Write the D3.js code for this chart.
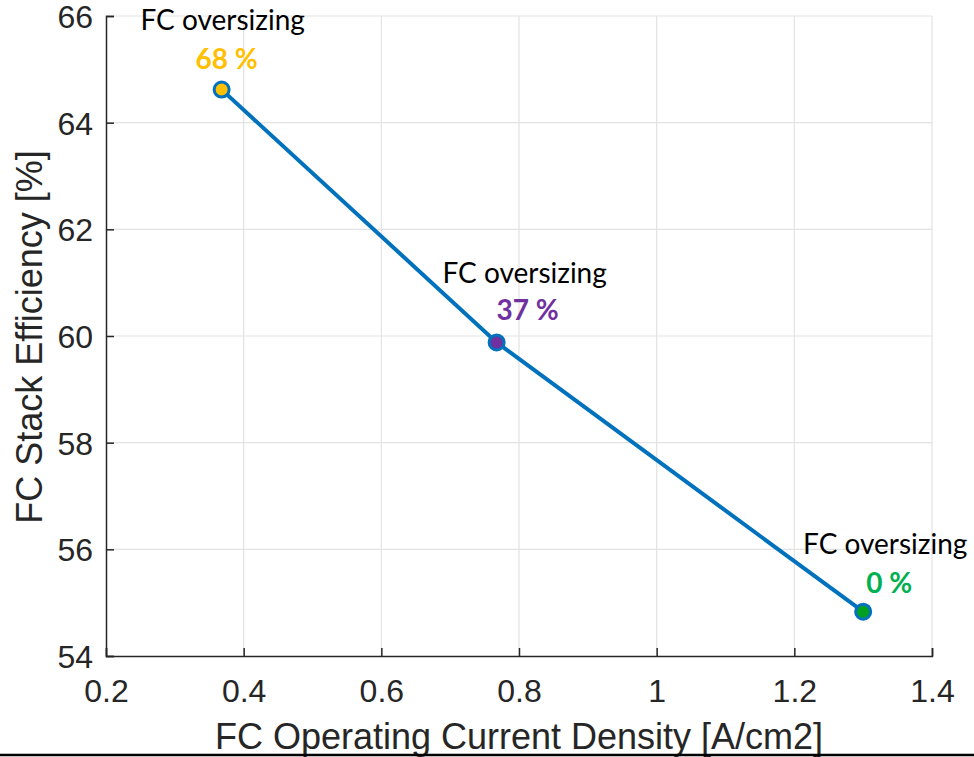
<!DOCTYPE html>
<html>
<head>
<meta charset="utf-8">
<script src="https://cdn.jsdelivr.net/npm/d3@7"></script>
<style>
  body { margin: 0; background: #fff; }
  svg { display: block; }
</style>
</head>
<body>
<svg id="chart" width="974" height="757"></svg>
<script>
// data
const currentDensity = [0.368, 0.7675, 1.30];
const stackEfficiency = [64.62, 59.88, 54.83];
const oversizing = ['68 %', '37 %', '0 %'];
const markerFill = ['#FFC000', '#7030A0', '#00A020'];
const labelColor = ['#FFC000', '#7030A0', '#00B050'];
const xTicks = [0.2, 0.4, 0.6, 0.8, 1, 1.2, 1.4];
const yTicks = [54, 56, 58, 60, 62, 64, 66];

// annotation offsets in px from each point [titleDx, titleDy, pctDx, pctDy]
const labelOffsets = [[1, -60, 5, -21], [28, -59, 31, -22], [22, -58, 26, -19]];

const svg = d3.select('#chart');
const margin = { top: 16, right: 42, bottom: 101, left: 106 };
const width = 974, height = 757;

const x = d3.scaleLinear().domain([0.2, 1.4]).range([margin.left, width - margin.right]);
const y = d3.scaleLinear().domain([54, 66]).range([height - margin.bottom, margin.top]);

const AXIS_COLOR = '#262626';
const GRID_COLOR = '#e3e3e3';
const AXIS_FONT = '"Liberation Sans", Arial, sans-serif';
const NOTE_FONT = 'Lato, "Noto Sans", sans-serif';

// grid
svg.append('g')
  .selectAll('line')
  .data(xTicks.slice(1))
  .join('line')
  .attr('x1', (d) => x(d)).attr('x2', (d) => x(d))
  .attr('y1', y(66)).attr('y2', y(54))
  .attr('stroke', GRID_COLOR).attr('stroke-width', 1.2);

svg.append('g')
  .selectAll('line')
  .data(yTicks.slice(1))
  .join('line')
  .attr('x1', x(0.2)).attr('x2', x(1.4))
  .attr('y1', (d) => y(d)).attr('y2', (d) => y(d))
  .attr('stroke', GRID_COLOR).attr('stroke-width', 1.2);

// axes
const xAxis = svg.append('g')
  .attr('transform', `translate(0,${y(54)})`)
  .call(d3.axisTop(x).tickValues(xTicks).tickFormat(d3.format('')).tickSize(8));
const yAxis = svg.append('g')
  .attr('transform', `translate(${x(0.2)},0)`)
  .call(d3.axisRight(y).tickValues(yTicks).tickSize(8));

[xAxis, yAxis].forEach((g) => {
  g.select('.domain').attr('stroke', AXIS_COLOR).attr('stroke-width', 1.5);
  g.selectAll('.tick line').attr('stroke', AXIS_COLOR).attr('stroke-width', 1.5);
  g.selectAll('.tick text')
    .attr('fill', AXIS_COLOR)
    .attr('font-family', AXIS_FONT)
    .attr('font-size', 32);
});

xAxis.selectAll('.tick text')
  .attr('y', 46)
  .attr('dy', 0)
  .attr('text-anchor', 'middle');
yAxis.selectAll('.tick text')
  .attr('x', -13)
  .attr('dy', '0.36em')
  .attr('text-anchor', 'end');

// axis titles
svg.append('text')
  .attr('x', 519)
  .attr('y', 749)
  .attr('text-anchor', 'middle')
  .attr('font-family', AXIS_FONT)
  .attr('font-size', 36)
  .attr('fill', AXIS_COLOR)
  .text('FC Operating Current Density [A/cm2]');

svg.append('text')
  .attr('transform', 'translate(42,337) rotate(-90)')
  .attr('text-anchor', 'middle')
  .attr('font-family', AXIS_FONT)
  .attr('font-size', 36)
  .attr('fill', AXIS_COLOR)
  .text('FC Stack Efficiency [%]');

// bottom rule
svg.append('line')
  .attr('x1', 0).attr('x2', width)
  .attr('y1', 755).attr('y2', 755)
  .attr('stroke', '#000').attr('stroke-width', 2.5);

// line + markers
const points = currentDensity.map((d, i) => ({ x: d, y: stackEfficiency[i], i }));

const line = d3.line()
  .x((d) => x(d.x))
  .y((d) => y(d.y));

svg.append('path')
  .datum(points)
  .attr('d', line)
  .attr('fill', 'none')
  .attr('stroke', '#0072BD')
  .attr('stroke-width', 4);

svg.append('g')
  .selectAll('circle')
  .data(points)
  .join('circle')
  .attr('cx', (d) => x(d.x))
  .attr('cy', (d) => y(d.y))
  .attr('r', 7.5)
  .attr('fill', (d) => markerFill[d.i])
  .attr('stroke', '#0072BD')
  .attr('stroke-width', 3);

// annotations
const notes = svg.append('g');
points.forEach((d) => {
  const [tdx, tdy, pdx, pdy] = labelOffsets[d.i];
  notes.append('text')
    .attr('x', x(d.x) + tdx)
    .attr('y', y(d.y) + tdy)
    .attr('text-anchor', 'middle')
    .attr('font-family', NOTE_FONT)
    .attr('font-size', 28)
    .attr('fill', '#000')
    .text('FC oversizing');
  notes.append('text')
    .attr('x', x(d.x) + pdx)
    .attr('y', y(d.y) + pdy)
    .attr('text-anchor', 'middle')
    .attr('font-family', NOTE_FONT)
    .attr('font-weight', 'bold')
    .attr('font-size', 28)
    .attr('fill', labelColor[d.i])
    .text(oversizing[d.i]);
});
</script>
</body>
</html>
